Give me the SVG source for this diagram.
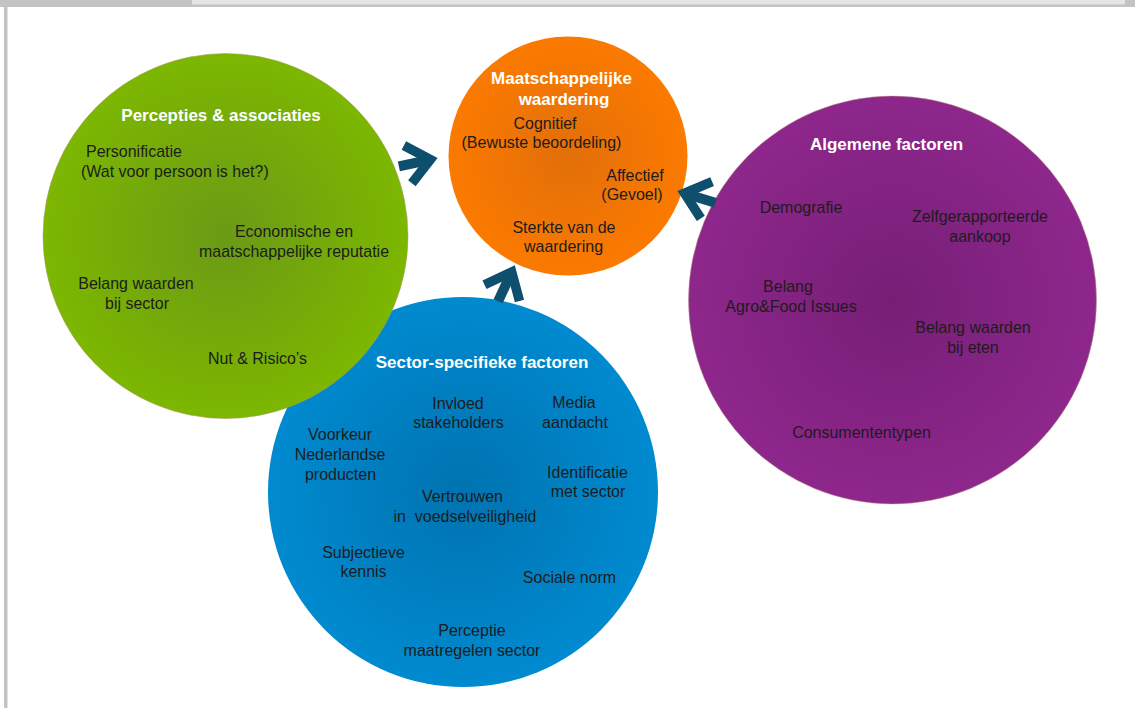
<svg xmlns="http://www.w3.org/2000/svg" width="1135" height="708" viewBox="0 0 1135 708">
  <style>
    text { font-family: "Liberation Sans", Arial, sans-serif; }
    .t { font-size: 17.2px; fill: #1c1c1c; text-anchor: middle; }
    .ts { font-size: 17.2px; fill: #1c1c1c; text-anchor: start; }
    .h { font-size: 17px; font-weight: bold; fill: #ffffff; text-anchor: middle; }
  </style>
  <defs>
    <radialGradient id="gGreen" cx="0.5" cy="0.5" r="0.5">
      <stop offset="0" stop-color="#6b9a16"/>
      <stop offset="1" stop-color="#7cb700"/>
    </radialGradient>
    <radialGradient id="gOrange" cx="0.5" cy="0.5" r="0.5">
      <stop offset="0" stop-color="#e26f0a"/>
      <stop offset="1" stop-color="#fb7a00"/>
    </radialGradient>
    <radialGradient id="gBlue" cx="0.5" cy="0.5" r="0.5">
      <stop offset="0" stop-color="#0073b0"/>
      <stop offset="1" stop-color="#008ad0"/>
    </radialGradient>
    <radialGradient id="gPurple" cx="0.5" cy="0.5" r="0.5">
      <stop offset="0" stop-color="#761e76"/>
      <stop offset="1" stop-color="#8e278c"/>
    </radialGradient>
    <g id="arrow">
      <path d="M-30.8,-19.3 L-7.8,0 L-30.8,19.3" fill="none" stroke="#0e4f6e" stroke-width="9.5" stroke-linejoin="miter" stroke-miterlimit="10"/>
      <path d="M-40,0 L-10,0" fill="none" stroke="#0e4f6e" stroke-width="10"/>
    </g>
  </defs>

  <rect x="0" y="0" width="1135" height="708" fill="#ffffff"/>

  <g id="frame">
    <rect x="0" y="0" width="1135" height="7" fill="#c3c3c3"/>
    <rect x="192" y="0" width="933" height="4.5" fill="#e4e4e4"/>
    <rect x="4" y="7" width="3.5" height="701" fill="#c3c3c3"/>
  </g>

  <g id="node-sector">
    <circle cx="463" cy="492" r="195" fill="url(#gBlue)"/>
    <text class="h" x="482" y="368">Sector-specifieke factoren</text>
    <g transform="scale(0.93,1)">
      <text class="t" x="492.47" y="409">Invloed</text>
      <text class="t" x="493.01" y="428">stakeholders</text>
      <text class="t" x="617.2" y="408">Media</text>
      <text class="t" x="618.28" y="428">aandacht</text>
      <text class="t" x="365.59" y="440">Voorkeur</text>
      <text class="t" x="365.59" y="460">Nederlandse</text>
      <text class="t" x="366.13" y="480">producten</text>
      <text class="t" x="631.72" y="478">Identificatie</text>
      <text class="t" x="632.26" y="497">met sector</text>
      <text class="t" x="497.31" y="502">Vertrouwen</text>
      <text class="t" x="500" y="522" xml:space="preserve">in  voedselveiligheid</text>
      <text class="t" x="390.86" y="558">Subjectieve</text>
      <text class="t" x="390.86" y="577">kennis</text>
      <text class="t" x="612.37" y="583">Sociale norm</text>
      <text class="t" x="507.53" y="636">Perceptie</text>
      <text class="t" x="507.53" y="656">maatregelen sector</text>
    </g>
  </g>

  <g id="node-percepties">
    <circle cx="225.5" cy="236" r="182.5" fill="url(#gGreen)" stroke="#a89a5a" stroke-width="0.8" stroke-opacity="0.7"/>
    <text class="h" x="221" y="121">Percepties &amp; associaties</text>
    <g transform="scale(0.93,1)">
      <text class="ts" x="92.47" y="157">Personificatie</text>
      <text class="ts" x="87.1" y="177">(Wat voor persoon is het?)</text>
      <text class="t" x="316.13" y="237">Economische en</text>
      <text class="t" x="316.13" y="257">maatschappelijke reputatie</text>
      <text class="t" x="146.24" y="289">Belang waarden</text>
      <text class="t" x="147.31" y="309">bij sector</text>
      <text class="t" x="276.88" y="364">Nut &amp; Risico’s</text>
    </g>
  </g>

  <g id="node-waardering">
    <circle cx="568" cy="156" r="119.5" fill="url(#gOrange)"/>
    <text class="h" x="561.5" y="84">Maatschappelijke</text>
    <text class="h" x="564" y="105">waardering</text>
    <g transform="scale(0.93,1)">
      <text class="t" x="586.02" y="129">Cognitief</text>
      <text class="t" x="582.26" y="148">(Bewuste beoordeling)</text>
      <text class="t" x="682.8" y="181">Affectief</text>
      <text class="t" x="679.57" y="200">(Gevoel)</text>
      <text class="t" x="606.45" y="233">Sterkte van de</text>
      <text class="t" x="605.91" y="252">waardering</text>
    </g>
  </g>

  <g id="node-algemeen">
    <circle cx="892.5" cy="300" r="204" fill="url(#gPurple)" stroke="#b99a80" stroke-width="0.8" stroke-opacity="0.6"/>
    <text class="h" x="886.5" y="150">Algemene factoren</text>
    <g transform="scale(0.93,1)">
      <text class="t" x="861.29" y="213">Demografie</text>
      <text class="t" x="1053.76" y="222">Zelfgerapporteerde</text>
      <text class="t" x="1053.76" y="242">aankoop</text>
      <text class="t" x="847.31" y="292">Belang</text>
      <text class="t" x="850.54" y="312">Agro&amp;Food Issues</text>
      <text class="t" x="1046.24" y="333">Belang waarden</text>
      <text class="t" x="1046.24" y="353">bij eten</text>
      <text class="t" x="926.34" y="438">Consumententypen</text>
    </g>
  </g>

  <g id="connectors">
    <use href="#arrow" transform="translate(438,158) rotate(-12)"/>
    <use href="#arrow" transform="translate(677,191) rotate(197)"/>
    <use href="#arrow" transform="translate(515,265) rotate(-65)"/>
  </g>
</svg>
